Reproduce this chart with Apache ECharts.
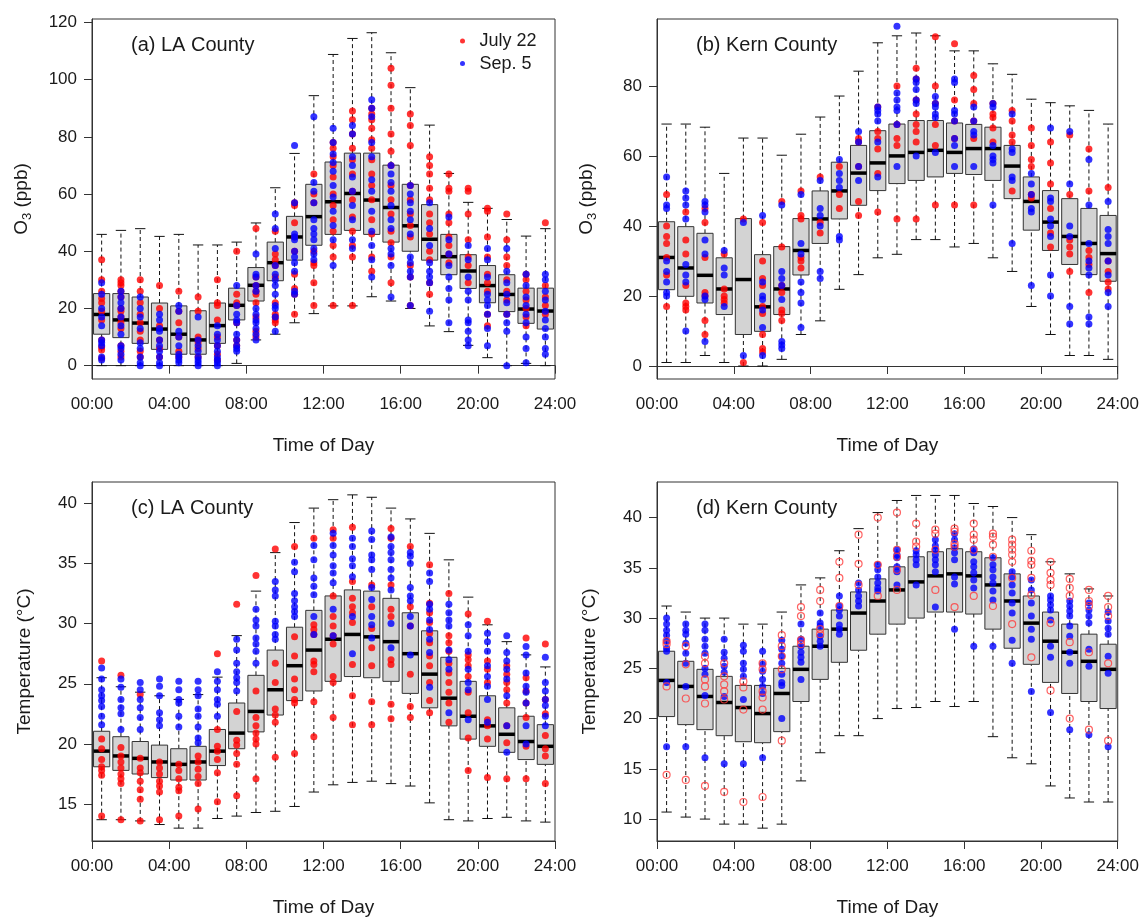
<!DOCTYPE html>
<html>
<head>
<meta charset="utf-8">
<script src="https://cdn.jsdelivr.net/npm/echarts@6/dist/echarts.min.js"></script>
<style>html,body{margin:0;padding:0;background:#fff}#c{width:1142px;height:918px}</style>
</head>
<body>
<div id="c"></div>
<script>
// ---------- categories / ticks ----------
const hourCenters = [0.5,1.5,2.5,3.5,4.5,5.5,6.5,7.5,8.5,9.5,10.5,11.5,12.5,13.5,14.5,15.5,16.5,17.5,18.5,19.5,20.5,21.5,22.5,23.5];
const xTickLabels = ['00:00','04:00','08:00','12:00','16:00','20:00','24:00'];
const yTicksA = [0,20,40,60,80,100,120];
const yTicksB = [0,20,40,60,80];
const yTicksC = [15,20,25,30,35,40];
const yTicksD = [10,15,20,25,30,35,40];

// ---------- (a) LA County O3 : [low whisker, Q1, median, Q3, high whisker] ----------
const laO3Box = [
 [0,11.0,17.9,25.2,45.9],[0,9.8,16.0,25.2,47.3],[0,7.8,14.9,24.0,47.9],[0,5.7,12.8,21.9,45.2],
 [0,4.0,11.0,20.9,45.9],[0,4.0,9.0,19.2,42.2],[0,7.8,14.0,21.9,42.2],[0.8,16.0,21.1,27.1,43.2],
 [9.0,22.6,28.1,34.3,49.9],[11.0,29.7,36.0,43.2,62.2],[15.0,36.9,45.0,52.2,74.2],[18.2,42.1,52.1,63.4,94.4],
 [20.9,45.9,57.3,71.2,108.8],[20.9,47.3,60.2,74.3,114.4],[24.1,45.9,57.9,74.3,116.4],[22.6,43.2,55.3,70.1,109.4],
 [20.0,40.0,48.9,63.4,97.2],[13.9,36.9,44.2,56.3,84.1],[11.9,31.8,38.1,45.9,67.2],[7.1,27.0,33.1,38.8,57.1],
 [2.8,22.0,28.0,35.0,55.0],[0,18.9,24.9,31.8,51.1],[0.8,14.8,19.8,27.1,45.3],[0,12.8,19.1,27.1,47.9]
];
const laO3Red = [
 [37,30,26,23.5,22,19,16,9,6.5,5.5,2.6],[30,29,28,26,24,20,19,17,15,13,7,5,3],[30,26,22,18,15,12,9,5,3],
 [28,20,14,9,6,3],[26,19,15,10,5,3],[24,19,10,8,6,3],[30,22,21,16,10,7,4,2],[40,25,22,21,15,9,7],
 [48,31,28,26,25,22,17,12,10],[47,39,37,35,31,22,18,17,16,15],[57,56,50,45,40,32,27,25,18],
 [67,60,57,40,36,35,29,21],[78,76,73,70,66,60,56,51,47,42,38,21],[89,86,81,76,72,67,61,58,52,47,42,38,21],
 [90,88,86,83,79,76,72,67,63,58,51,46,38,33],[104,98,90,81,75,70,63,58,53,47,43,38,29],
 [88,84,77,63,58,53,49,45,35,31,21],[73,70,67,62,58,53,50,46,40,37,29,25],[67,62,61,53,50,45,42,39,36],
 [62,61,53,44,38,35,29],[55,54,45,38,32,29,26,18,14],[53,44,38,35,30,26,23,18],[32,30,26,23,20,17,14],
 [50,28,24,21,18]
];
const laO3Blue = [
 [29,25,20,17,14,9,8,7,3,2],[26,24,22,20,17,14,11,7,6,4,2],[24,20,17,13,8,6,3,1,0],[18,16,13,12,9,7,5,3,1,0],
 [21,19,12,10,7,4,3,2,1],[17,9,7,5,3,2,1,0],[14,11,9,7,5,3,2,1,0],[28,21,18,16,15,11,9,7,6,5],
 [39,32,31,28,26,20,18,16,15,13,11,9],[53,48,41,35,32,30,28,25,21,20,17,12],[77,57,46,45,44,40,38,36,33,26,25],
 [87,64,61,57,51,48,46,44,41,39,37],[83,78,74,71,68,63,59,54,49,44,35],[84,81,73,70,66,61,56,51,44,41],
 [93,90,87,78,73,65,61,54,47,42,37,31],[70,67,64,61,56,51,48,41,39,35,24],[63,60,57,54,51,46,38,36,33,31,21],
 [57,48,42,36,33,31,29,19],[52,44,39,35,31,27,23,15],[42,37,31,26,23,16,15,12,9,7],[41,37,31,25,23,21,18,13,7],
 [41,33,29,25,22,18,15,12,0],[32,28,24,21,18,15,10,6,1],[32,30,26,23,19,16,13,10,6,4]
];

// ---------- (b) Kern County O3 ----------
const kernO3Box = [
 [1,21.8,31,41.2,69.1],[1,19.9,28,39.8,69.1],[3,18,25.9,37.9,68.2],[1,14.7,22,30.9,55],
 [0,9,24.7,42.1,65.1],[0,9.9,16.9,31.8,65.1],[1.9,14.7,22,34.1,60.2],[9,26,33,42.1,66.2],
 [12.9,35,42,50,71.1],[21.9,42,50,58.2,77.1],[26.1,45.9,55.1,63,84.2],[30.9,50.1,58,67.2,92.3],
 [31.9,52.1,60,69.1,94.3],[36.1,53,61,70.1,95.1],[36.1,54,61.6,70.1,94.3],[34,55,61,69.4,90],
 [35,54.7,62.1,69,90],[30.9,53,62.1,68.2,86.3],[27,47.8,57.1,63,83.3],[17,38.8,47,54,76.2],
 [9,33,41.1,50.1,75.2],[3,29,37,47.8,74.3],[3,26.1,35,45,73],[1.9,24.2,32.1,43,69.1]
];
const kernO3Red = [
 [49,40,37,35,31,26,17],[44,36,32,23,18,17,16],[45,41,31,21,20,13,9],[32,22,20,19,18],[42,1],
 [41,30,25,23,17,15,9,5,4],[47,34,23,21,16,15,13],[50,43,42,31,30,28],[54,41,38],[57,49,45],
 [65,64,57,47,43],[74,67,65,62,55,44],[80,69,65,63,42],[85,82,76,72,69,67,64,42],[94,80,75,69,63,46],
 [92,76,70,65,46],[83,79,75,70,65,46],[75,72,71,68,64],[73,70,66,64,50],[68,63,59,57,49,48],
 [64,58,52,45,38,34],[66,49,36,34,32,27],[62,50,33,31,29,21],[51,30,27,24,22]
];
const kernO3Blue = [
 [54,46,45,30,27,24,21,20],[50,48,46,42,29,26,24,10],[47,46,44,36,32,20,19,7],[33,28,26,17],[41,3],
 [43,24,20,19,16,11,3],[46,27,25,23,19,7,6,5],[49,35,32,24,21,18,11],[53,45,43,40,27,25],[59,55,53,51,37,36],
 [67,64,57,53],[74,73,72,70,64,54],[97,78,76,74,73,69,57],[82,81,79,76,75,60],[77,75,74,72,71,61],
 [82,81,73,72,70,65,63,57],[74,70,67,66,57],[75,74,63,60,59,58,46],[72,62,61,54,53,35],[55,52,49,45,44,23],
 [68,48,47,42,40,37,26,20],[67,52,40,37,17,12],[59,46,35,30,28,26,14,12],[47,39,37,35,30,26,21,17]
];

// ---------- (c) LA County temperature ----------
const laTBox = [
 [13.7,18.1,19.4,21.05,25.5],[13.7,17.8,19,20.6,24.75],[13.6,17.5,18.8,20.2,24.3],[13.3,17.2,18.5,19.9,24],
 [13,17,18.3,19.6,23.7],[13,17,18.5,19.8,24.1],[13.8,18.2,19.4,21.2,25.55],[14,19.6,20.9,23.4,29],
 [14.3,21,22.7,25.7,32.7],[14.4,22.4,24.5,27.8,35.9],[14.8,23.6,26.5,29.7,38.4],[16,24.4,27.8,31.1,39.6],
 [16.6,25.2,28.7,32.3,40.3],[16.8,25.6,29.1,32.8,40.7],[16.9,25.5,28.9,32.7,40.5],[16.7,25.2,28.5,32.1,39.6],
 [16.5,24.2,27.5,30.9,38.7],[15.1,23,25.8,29.4,37.5],[13.7,21.5,23.8,27.2,35.3],[13.6,20.4,22.3,25.2,32.2],
 [13.8,19.8,21.5,24,29.9],[13.9,19.3,20.8,23,28.5],[13.6,18.7,20.2,22.3,27.4],[13.5,18.3,19.8,21.6,26.4]
];
const laTRed = [
 [26.9,20.4,19.6,18.7,18.1,17.8,17.4,14],[25.7,19.7,19,18.5,18,17.5,17.1,16.7,13.7],[24.1,18.8,18,17.6,16.9,16.2,15.4,13.6],
 [18.5,18,17.5,16.9,16.5,16,13.7],[18.3,17.8,17.1,16.4,16.1,14],[19,18.5,17.9,17.3,16.7,14.6],
 [27.5,21.2,19.8,19.4,18.7,17.6,15.2],[31.6,22.7,20.3,19.9,19.2,18.3,15.7],[34,24.4,22.2,21.5,20.9,20.4,20,17.1],
 [36.2,26.7,25.1,22.9,22.4,21.8,18.9],[36.4,28.9,27.3,25.4,24.5,23.7,23.4,19.2],[37.1,29.9,29.5,29.1,26.9,26.6,26,23.5,20.6],
 [37.8,37.1,32.3,30.6,29.8,29,28.3,25.6,25.1,22.2],[38,33.5,32.1,31.4,30.9,30.1,26.6,24,21.6],[33.2,31.4,29.6,28,26.5,23.5,21.6],
 [37.9,37.1,33.2,31.2,30.6,27,26.6,23.3,22.1],[36.4,31.4,29.8,25.8,23.1,22.2],[34.9,31.7,30.9,30.1,29.2,28.4,27.3,26.5,25.1,23.6,22.6],
 [32.5,29,28.4,27.7,26.7,25.9,25.1,24.3,23.4,21.8],[30.8,27.4,27,26.5,25.6,24.3,22.6,20.5,17.8],[30.2,26.9,26.2,25.1,22,21.5,20.4,17.2],
 [26.5,25.8,25.1,24.5,23.4,21.5,20.1,17.1],[28.8,25.5,24.4,23.4,22.2,19.8,17.1],[28.3,23.7,22.5,20.7,19.6,19,16.7]
];
const laTBlue = [
 [26.3,25.4,24.5,24,23.6,23.1,22.3,21.6],[25.4,24.7,23.7,23,22.5,21.2],[25.1,24.5,23.7,23,22.2,21.2],
 [25.4,24.8,24,22.6,22,21.5],[25.2,24.5,23.7,23.4,22.3,21.4],[25.2,24.5,24,22.9,22.3,21.4,20.5,20.1],
 [26,25.2,24.5,23.7,23.3,22.3],[28.7,27.8,26.7,26,25.5,25.1,24.4],[31.2,30.3,29.8,28.8,28.3,27.7,26.7],
 [33.5,32.8,32.3,30.2,29.8,29.1,28.7],[35.1,34.3,32.5,31.9,31.4,31,30.6],[36.5,35.3,33.8,33.1,32.4,30.6,29.1],
 [37.5,36.5,35.7,34.8,34.2,33.4,31.2,29],[37.1,36.4,35.4,34.8,33.9,30.6,27.5],[37.7,37,35.7,35.3,34.5,33,32,30.6,29.9,28.8],
 [37.2,36.4,35.9,35.3,34.5,33.8,32.8,30,28],[35.9,35.6,35,33,32.3,31.9,30.6,29.8,27.4],[34.2,33.5,31.6,31.2,30.3,29.5,28.7,27.6,24.7],
 [31.6,30.9,30.3,29.8,27.8,27,26.2,22.6],[29.9,29,27.7,26.2,25.1,24.5,22],[29.2,28.5,27.7,26.5,25.6,24.8,23.7,21.8],
 [29,27.6,26.9,26.2,25.4,24,21.5,19.3],[28.1,27.4,25.9,24.8,24.3,23.4,21.5,20],[27.2,25.1,24.4,23.7,23.2,22.3,21.5]
];

// ---------- (d) Kern County temperature ----------
const kernTBox = [
 [10.7,20.2,23.8,26.7,31.2],[10.2,19.4,23.2,25.7,30.6],[10,18.9,22.2,24.9,30],[9.5,18.3,21.6,24.2,30],
 [9.5,17.7,21.1,23.3,29.4],[9.1,17.6,20.5,23.3,29.4],[9.5,18.7,22.5,25,30.6],[13.8,21.7,24.9,27.2,33.3],
 [16.6,23.9,27.2,28.9,34],[18.3,25.6,28.9,30.8,36.7],[18.3,26.8,30.5,32.6,38.9],[20,28.4,31.7,33.9,40.5],
 [21,29.4,32.8,35.1,41.7],[21.1,30,33.6,36.1,42.2],[21.7,30.6,34.2,36.6,42.2],[21.2,30.6,34.4,36.9,42.2],
 [21.7,30.4,34.2,36.6,41.4],[18.2,28.9,33.3,36,41.1],[16.1,27,31.7,34.4,40],[15.5,25.4,29.5,32.2,38.3],
 [13.3,23.6,27.7,30.6,35.6],[12.1,22.5,26.6,29.4,34.4],[11.7,21.7,25.7,28.4,32.9],[11.7,21,24.9,27.4,32.2]
];
const kernTRed = [
 [27.7,27.4,23.2,14.4],[27.2,25.4,22,13.9],[26.2,25.5,23.9,23.2,21.5,13.3],[25.5,24.2,23.4,22.7,21.9,12.7],
 [23.7,23.1,20.9,11.7],[25.5,24.9,22.7,22.1,20.9,12.2],[28.3,27.2,26.2,24.9,17.8],[31.1,30.2,27.8,27.4],
 [32.8,31.7,28.9,28.4],[35.6,34,31.2],[38.3,35.4,33.3],[40,35.3,32.2],[40.5,36.8,36.1,34.8,32.8],
 [39.4,37.6,37.1],[38.8,38.4,36.8,32.8],[38.9,38.6,37.4,37.1,31.1],[39.4,38.3,37.8,36.8,32.2],
 [38.4,38.1,37.3,36.1,31.2],[37.8,37.3,36.8,36.3,35.6,34,29.4],[36.7,35.7,35.3,34,32.3,26.1],
 [35.6,34.5,33.8,33.3,29.5,22.8],[33.9,33,32.2,27.6,20],[32.8,31.7,31.2,26.6,18.9],[32.2,31.1,30.2,25.5,17.8]
];
const kernTBlue = [
 [30,29.4,28.8,28.3,27.7,27,26.7,23.6,17.2],[29.4,28.8,28.4,27.5,26.5,25.5,23.2,17.2],[29.4,28.8,27.9,27.2,26.5,25,24.4,22.3,16.1],
 [27.9,26.6,26,25.2,24.6,22.2,15.5],[27.3,26.7,25.5,24.9,24.2,21.9,15.5],[26.7,25.4,24.7,23.9,23.2,22.5,16.1],
 [27.8,26.9,26.2,25.5,24.4,23.6,23.3,20],[29.4,27.9,27.2,26.6,26.1,25.6,23.9],[30.5,29.5,29.2,28.2,27.7,27.2],
 [32.2,31.2,30.8,30.2,29.3,28.9,28.4],[33.5,32.8,32.2,31.7,31.2],[35.3,34.8,34.1,33.5,33,32.7],
 [36.8,36.3,36,35.1,34.6,33.3],[36.7,36.3,35.8,35.3,33.3],[37.8,37.2,36.8,36.3,35.8,35.3,34.6,31.1],
 [38.4,37.8,37,36.5,35.8,34.1,33.4,28.9],[36.9,36.5,35.6,35.1,34.5,33.8,33,27.2],[36,35.3,34.8,34.1,33.5,32.7,31.8,27.2],
 [34.6,34.1,33.3,32.5,31.5,30.5,27.8,25.5],[33.8,32.8,31.5,30.2,28.9,27.9,22.7],[32.2,31.8,31.3,30.8,29.8,27.2,26.1,20.6],
 [31.7,31.2,30.7,30.2,29.2,28.2,26.6,25.5,18.9],[31.5,30.8,30.2,29.5,26.9,25.2,18.4],[30.6,29.7,29,28.4,26.2,24.5,17.2]
];

// ---------- build ----------
const FONT = 'Liberation Sans, Arial, Helvetica, sans-serif';
const INK = '#1a1a1a';

function boxData(boxes){ return boxes.map((b,h)=>[hourCenters[h]].concat(b)); }
function ptData(arr){ const out=[]; arr.forEach((vals,h)=>vals.forEach(v=>out.push([hourCenters[h], v]))); return out; }

function renderBox(params, api){
  const x = api.value(0);
  const lo = api.coord([x, api.value(1)]);
  const q1 = api.coord([x, api.value(2)]);
  const md = api.coord([x, api.value(3)]);
  const q3 = api.coord([x, api.value(4)]);
  const hi = api.coord([x, api.value(5)]);
  const w = api.size([0.84, 0])[0];
  const sw = w * 0.32;
  const cx = lo[0];
  const dash = {stroke:'#111', lineWidth:1, lineDash:[4,3]};
  const solid = {stroke:'#111', lineWidth:1};
  return {type:'group', children:[
    {type:'line', shape:{x1:cx,y1:lo[1],x2:cx,y2:q1[1]}, style:dash},
    {type:'line', shape:{x1:cx,y1:q3[1],x2:cx,y2:hi[1]}, style:dash},
    {type:'line', shape:{x1:cx-sw,y1:lo[1],x2:cx+sw,y2:lo[1]}, style:solid},
    {type:'line', shape:{x1:cx-sw,y1:hi[1],x2:cx+sw,y2:hi[1]}, style:solid},
    {type:'rect', shape:{x:cx-w/2,y:q3[1],width:w,height:q1[1]-q3[1]}, style:{fill:'#d3d3d3', stroke:'#333', lineWidth:1}},
    {type:'line', shape:{x1:cx-w/2,y1:md[1],x2:cx+w/2,y2:md[1]}, style:{stroke:'#000', lineWidth:3.5}}
  ]};
}

const grids = [
  {left:92, top:19, width:463, height:360},
  {left:657, top:19, width:463, height:360},
  {left:92, top:482, width:463, height:360},
  {left:657, top:482, width:463, height:360}
].map(g=>Object.assign({show:true, borderColor:'#333', borderWidth:1, backgroundColor:'transparent'}, g));

function mkX(gi){
  return {type:'value', gridIndex:gi, min:0, max:24, interval:4,
    axisLine:{show:true, lineStyle:{color:'#333', width:1}},
    axisTick:{show:true, inside:false, length:8, lineStyle:{color:'#333'}},
    axisLabel:{formatter:(v)=>xTickLabels[Math.round(v/4)], fontSize:17, color:INK, margin:17, fontFamily:FONT},
    splitLine:{show:false},
    name:'Time of Day', nameLocation:'middle', nameGap:57,
    nameTextStyle:{fontSize:19, color:INK, fontFamily:FONT}};
}
function mkY(gi, min, max, ticks, name){
  return {type:'value', gridIndex:gi, min:min, max:max,
    axisLine:{show:true, lineStyle:{color:'#333', width:1}},
    axisTick:{show:true, inside:false, length:8, customValues:ticks, lineStyle:{color:'#333'}},
    axisLabel:{customValues:ticks, fontSize:17, color:INK, margin:15, fontFamily:FONT},
    splitLine:{show:false},
    name:name, nameLocation:'middle', nameGap:58, nameRotate:90,
    nameTextStyle:{fontSize:19, color:INK, fontFamily:FONT,
      rich:{a:{fontSize:19, fontFamily:FONT, color:INK}, s:{fontSize:13, fontFamily:FONT, color:INK, padding:[11,0,0,0]}}}};
}

const o3Name = '{a|O}{s|3}{a| (ppb)}';
const tName = 'Temperature (°C)';

const panels = [
  {box:laO3Box, red:laO3Red, blue:laO3Blue, hollow:false},
  {box:kernO3Box, red:kernO3Red, blue:kernO3Blue, hollow:false},
  {box:laTBox, red:laTRed, blue:laTBlue, hollow:false},
  {box:kernTBox, red:kernTRed, blue:kernTBlue, hollow:true}
];

const series = [];
panels.forEach((p,i)=>{
  series.push({type:'custom', xAxisIndex:i, yAxisIndex:i, renderItem:renderBox, data:boxData(p.box),
    encode:{x:0, y:[1,2,3,4,5]}, z:2, silent:true});
  const redS = {type:'scatter', name: i===0 ? 'July 22' : 'July 22 ' + i, xAxisIndex:i, yAxisIndex:i,
    data:ptData(p.red), symbol:'circle', symbolSize:7, z: p.hollow ? 4 : 3, silent:true,
    itemStyle: p.hollow ? {color:'rgba(255,255,255,0)', borderColor:'#ff3b3b', borderWidth:1.2} : {color:'#ff0000'}};
  const blueS = {type:'scatter', name: i===0 ? 'Sep. 5' : 'Sep. 5 ' + i, xAxisIndex:i, yAxisIndex:i,
    data:ptData(p.blue), symbol:'circle', symbolSize:7, z: p.hollow ? 3 : 4, silent:true,
    itemStyle:{color:'#0000ff'}};
  series.push(redS, blueS);
});

const titleStyle = {fontSize:20, fontWeight:'normal', color:INK, fontFamily:FONT, lineHeight:20};
const option = {
  animation:false,
  backgroundColor:'#fff',
  title:[
    {text:'(a) LA County', left:131, top:35, padding:0, textStyle:titleStyle},
    {text:'(b) Kern County', left:696, top:35, padding:0, textStyle:titleStyle},
    {text:'(c) LA County', left:131, top:498, padding:0, textStyle:titleStyle},
    {text:'(d) Kern County', left:696, top:498, padding:0, textStyle:titleStyle}
  ],
  legend:{data:['July 22','Sep. 5'], orient:'vertical', left:460, top:32, padding:0,
    itemWidth:24, itemHeight:5, itemGap:4.6, icon:'circle', selectedMode:false,
    textStyle:{fontSize:18, lineHeight:18, color:INK, fontFamily:FONT}},
  grid:grids,
  xAxis:[mkX(0), mkX(1), mkX(2), mkX(3)],
  yAxis:[
    mkY(0, -4.66, 121.2, yTicksA, o3Name),
    mkY(1, -3.71, 99.1, yTicksB, o3Name),
    mkY(2, 11.93, 41.77, yTicksC, tName),
    mkY(3, 7.82, 43.54, yTicksD, tName)
  ],
  series:series
};

const chart = echarts.init(document.getElementById('c'), null, {renderer:'canvas'});
chart.setOption(option);
</script>
</body>
</html>
